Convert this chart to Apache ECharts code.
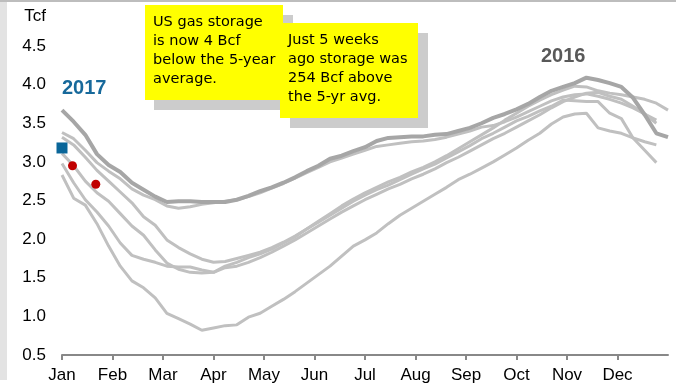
<!DOCTYPE html>
<html>
<head>
<meta charset="utf-8">
<script src="https://cdn.jsdelivr.net/npm/echarts@6.0.0/dist/echarts.min.js"></script>
<style>
  html, body { margin: 0; padding: 0; background: #fff; }
  #chart { width: 676px; height: 390px; }
</style>
</head>
<body>
<div id="chart"></div>
<script>
// weekly storage, Tcf (week 0 = first week of Jan)
const months = ['Jan', 'Feb', 'Mar', 'Apr', 'May', 'Jun', 'Jul', 'Aug', 'Sep', 'Oct', 'Nov', 'Dec'];

const y2011 = [3.11, 2.95, 2.75, 2.60, 2.49, 2.33, 2.17, 2.05, 1.86, 1.69,
  1.61, 1.57, 1.56, 1.57, 1.63, 1.65, 1.70, 1.76, 1.83, 1.91,
  1.99, 2.08, 2.17, 2.26, 2.35, 2.43, 2.51, 2.58, 2.65, 2.71,
  2.78, 2.84, 2.91, 2.99, 3.06, 3.14, 3.22, 3.30, 3.37, 3.45,
  3.53, 3.61, 3.70, 3.78, 3.84, 3.89, 3.90, 3.85, 3.81, 3.72,
  3.62, 3.50];
const y2012 = [3.38, 3.30, 3.15, 2.99, 2.88, 2.78, 2.65, 2.57, 2.51, 2.43,
  2.40, 2.42, 2.45, 2.47, 2.49, 2.51, 2.55, 2.60, 2.66, 2.72,
  2.79, 2.86, 2.93, 3.00, 3.05, 3.10, 3.15, 3.20, 3.22, 3.24,
  3.26, 3.27, 3.29, 3.32, 3.36, 3.40, 3.45, 3.47, 3.52, 3.58,
  3.65, 3.72, 3.79, 3.84, 3.87, 3.88, 3.85, 3.81, 3.76, 3.70,
  3.62, 3.54];
const y2013 = [3.32, 3.22, 3.06, 2.89, 2.75, 2.61, 2.47, 2.29, 2.18, 1.99,
  1.89, 1.81, 1.74, 1.70, 1.71, 1.75, 1.79, 1.83, 1.89, 1.96,
  2.04, 2.13, 2.22, 2.31, 2.40, 2.49, 2.57, 2.64, 2.70, 2.77,
  2.84, 2.91, 2.97, 3.05, 3.13, 3.21, 3.30, 3.37, 3.45, 3.53,
  3.59, 3.66, 3.72, 3.80, 3.79, 3.78, 3.78, 3.63, 3.56, 3.31,
  3.15, 2.99];
const y2014 = [2.83, 2.53, 2.44, 2.20, 1.91, 1.65, 1.46, 1.37, 1.24, 1.04,
  0.97, 0.90, 0.82, 0.85, 0.88, 0.89, 0.99, 1.04, 1.13, 1.22,
  1.32, 1.43, 1.54, 1.65, 1.78, 1.91, 1.99, 2.08, 2.20, 2.31,
  2.40, 2.49, 2.58, 2.67, 2.77, 2.84, 2.92, 3.00, 3.09, 3.18,
  3.28, 3.37, 3.49, 3.58, 3.62, 3.63, 3.44, 3.40, 3.37, 3.31,
  3.26, 3.22];
const y2015 = [2.98, 2.73, 2.51, 2.35, 2.17, 1.95, 1.79, 1.74, 1.70, 1.65,
  1.64, 1.64, 1.60, 1.57, 1.65, 1.70, 1.76, 1.81, 1.87, 1.95,
  2.03, 2.13, 2.23, 2.33, 2.43, 2.52, 2.60, 2.67, 2.74, 2.80,
  2.87, 2.93, 3.00, 3.08, 3.17, 3.26, 3.35, 3.44, 3.54, 3.63,
  3.72, 3.80, 3.87, 3.93, 3.98, 3.97, 3.92, 3.89, 3.87, 3.84,
  3.81, 3.76, 3.67];
const y2016 = [3.67, 3.52, 3.35, 3.10, 2.96, 2.87, 2.73, 2.64, 2.55, 2.48,
  2.49, 2.49, 2.48, 2.48, 2.48, 2.51, 2.56, 2.62, 2.67, 2.73,
  2.80, 2.88, 2.95, 3.04, 3.08, 3.14, 3.19, 3.27, 3.31, 3.32,
  3.33, 3.33, 3.35, 3.36, 3.40, 3.44, 3.50, 3.57, 3.62, 3.68,
  3.75, 3.84, 3.92, 3.97, 4.02, 4.09, 4.06, 4.02, 3.97, 3.83,
  3.61, 3.37, 3.32];

// 2017 so far: [week, Tcf]
const start2017 = [[0, 3.18]];
const dots2017 = [[0.9, 2.95], [2.9, 2.71]];

const monthStarts = months.map((m, i) => i * 52 / 12);
const toPoints = arr => arr.map((v, i) => [i, v]);

const chart = echarts.init(document.getElementById('chart'));

const lightLine = (name, data) => ({
  name: name,
  type: 'line',
  data: toPoints(data),
  symbol: 'none',
  silent: true,
  lineStyle: { color: '#c0c0c0', width: 3 },
  z: 2,
});

const noteFont = "14.5px 'Comic Sans MS', 'DejaVu Sans', sans-serif";

chart.setOption({
  animation: false,
  grid: { left: 62, right: 8, top: 46, bottom: 35 },
  xAxis: {
    type: 'value',
    min: 0,
    max: 52,
    axisLine: { show: true, lineStyle: { color: '#888', width: 2 } },
    axisTick: { show: true, customValues: monthStarts, length: 5, lineStyle: { color: '#888', width: 2 } },
    axisLabel: {
      customValues: monthStarts,
      formatter: v => months[Math.round(v * 12 / 52)],
      color: '#000',
      fontSize: 17,
      fontFamily: 'Liberation Sans, Arial, sans-serif',
      margin: 12,
    },
    splitLine: { show: false },
  },
  yAxis: {
    type: 'value',
    min: 0.5,
    max: 4.5,
    interval: 0.5,
    name: 'Tcf',
    nameGap: 30,
    nameTextStyle: {
      color: '#000', fontSize: 17, fontFamily: 'Liberation Sans, Arial, sans-serif',
      align: 'right', verticalAlign: 'middle', padding: [0, 16, 0, 0],
    },
    axisLine: { show: false },
    axisTick: { show: false },
    splitLine: { show: false },
    axisLabel: {
      formatter: v => v.toFixed(1),
      color: '#000',
      fontSize: 17,
      fontFamily: 'Liberation Sans, Arial, sans-serif',
      margin: 16,
    },
  },
  series: [
    lightLine('2011', y2011),
    lightLine('2012', y2012),
    lightLine('2013', y2013),
    lightLine('2014', y2014),
    lightLine('2015', y2015),
    {
      name: '2016',
      type: 'line',
      data: toPoints(y2016),
      symbol: 'none',
      silent: true,
      lineStyle: { color: '#a6a6a6', width: 4 },
      z: 3,
    },
    {
      name: '2017',
      type: 'scatter',
      data: start2017,
      symbol: 'rect',
      symbolSize: 11,
      itemStyle: { color: '#0a6699', opacity: 1 },
      z: 5,
    },
    {
      name: '2017 weekly',
      type: 'scatter',
      data: dots2017,
      symbol: 'circle',
      symbolSize: 9,
      itemStyle: { color: '#c00000', opacity: 1 },
      z: 5,
    },
  ],
  graphic: [
    // frame strips
    { type: 'rect', shape: { x: 0, y: 0, width: 7, height: 380 }, style: { fill: '#e3e3e3' }, silent: true },
    { type: 'rect', shape: { x: 0, y: 0, width: 676, height: 2 }, style: { fill: '#bdbdbd' }, silent: true },
    // year labels
    { type: 'text', x: 62, y: 78, style: { text: '2017', font: "bold 20px 'Liberation Sans', Arial, sans-serif", fill: '#17699b' } },
    { type: 'text', x: 541, y: 46, style: { text: '2016', font: "bold 20px 'Liberation Sans', Arial, sans-serif", fill: '#595959' } },
    // note 1
    { type: 'rect', shape: { x: 154, y: 15, width: 139, height: 95 }, style: { fill: '#cccccc' }, z: 10 },
    { type: 'rect', shape: { x: 145, y: 5, width: 138, height: 95 }, style: { fill: '#ffff00' }, z: 10 },
    {
      type: 'text', x: 153, y: 13, z: 11,
      style: { text: 'US gas storage\nis now 4 Bcf\nbelow the 5-year\naverage.', font: noteFont, lineHeight: 19, fill: '#000' },
    },
    // note 2
    { type: 'rect', shape: { x: 290, y: 33, width: 138, height: 95 }, style: { fill: '#cccccc' }, z: 12 },
    { type: 'rect', shape: { x: 280, y: 23, width: 138, height: 95 }, style: { fill: '#ffff00' }, z: 12 },
    {
      type: 'text', x: 288, y: 31, z: 13,
      style: { text: 'Just 5 weeks\nago storage was\n254 Bcf above\nthe 5-yr avg.', font: noteFont, lineHeight: 19, fill: '#000' },
    },
  ],
});
</script>
</body>
</html>
